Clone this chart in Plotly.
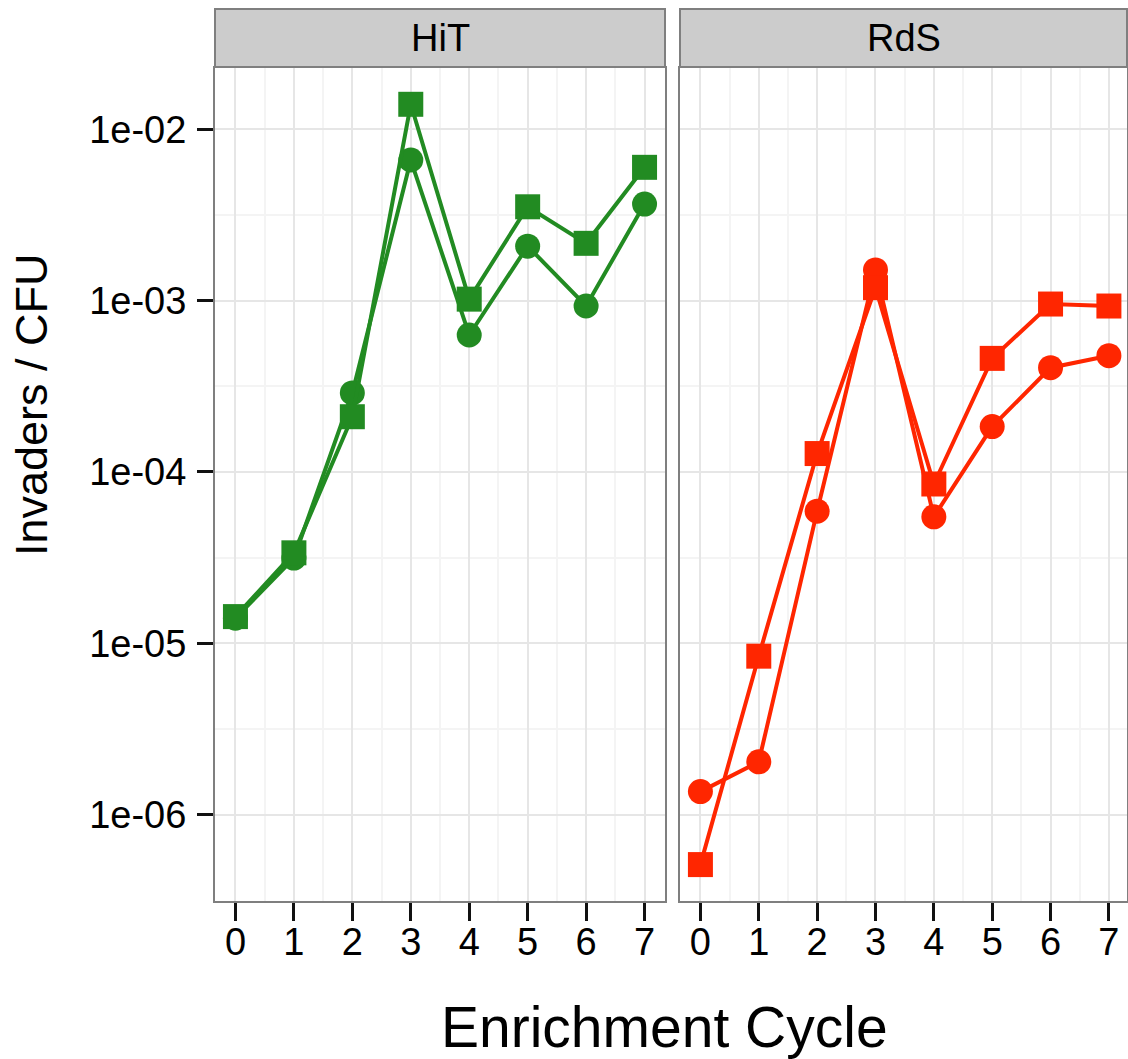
import plotly.graph_objects as go

# Enrichment cycles (x) and the two panels
cycles = [0, 1, 2, 3, 4, 5, 6, 7]
panels = ["HiT", "RdS"]

# Invaders / CFU per cycle, two replicate series per panel
hit_circle = [1.40e-5, 3.14e-5, 2.89e-4, 6.62e-3, 6.3e-4, 2.08e-3, 9.3e-4, 3.66e-3]
hit_square = [1.43e-5, 3.37e-5, 2.10e-4, 1.40e-2, 1.02e-3, 3.53e-3, 2.16e-3, 6.0e-3]
rds_circle = [1.36e-6, 2.03e-6, 5.9e-5, 1.51e-3, 5.47e-5, 1.84e-4, 4.06e-4, 4.77e-4]
rds_square = [5.1e-7, 8.4e-6, 1.28e-4, 1.19e-3, 8.5e-5, 4.6e-4, 9.55e-4, 9.3e-4]

# Axis ticks
y_tickvals = [1e-6, 1e-5, 1e-4, 1e-3, 1e-2]
y_ticktext = ["1e-06", "1e-05", "1e-04", "1e-03", "1e-02"]
y_minor = [10 ** -6.5, 10 ** -5.5, 10 ** -4.5, 10 ** -3.5, 10 ** -2.5]
x_minor = [0.5, 1.5, 2.5, 3.5, 4.5, 5.5, 6.5]

GREEN = "#228B22"
RED = "#FF2600"
FONT = "Liberation Sans, Arial, Helvetica, sans-serif"

W, H = 1128, 1059


def px_x(p):
    return p / W


def px_y(p):
    return (H - p) / H


fig = go.Figure()

series = [
    ("x", "y", hit_circle, "circle", GREEN),
    ("x", "y", hit_square, "square", GREEN),
    ("x2", "y2", rds_circle, "circle", RED),
    ("x2", "y2", rds_square, "square", RED),
]
for xa, ya, vals, sym, col in series:
    fig.add_trace(go.Scatter(
        x=cycles, y=vals, xaxis=xa, yaxis=ya,
        mode="lines+markers",
        line=dict(color=col, width=4),
        marker=dict(symbol=sym, size=25, color=col, line=dict(width=0)),
        showlegend=False, hoverinfo="skip",
    ))

grid_major = "#E6E6E6"
grid_minor = "#F4F4F4"
border = "#7F7F7F"

x_common = dict(
    range=[-0.35, 7.35],
    tickmode="array", tickvals=cycles, ticktext=[str(c) for c in cycles],
    ticks="outside", ticklen=18, tickwidth=3, tickcolor="#111111",
    tickfont=dict(family=FONT, size=38, color="black"),
    ticklabelstandoff=-12,
    showgrid=True, gridcolor=grid_major, gridwidth=2,
    minor=dict(tickvals=x_minor, showgrid=True, gridcolor=grid_minor,
               gridwidth=2, ticks=""),
    showline=True, linecolor=border, linewidth=2, mirror=True,
    zeroline=False, fixedrange=True,
)
y_common = dict(
    type="log",
    range=[-6.505, -1.642],
    tickmode="array", tickvals=y_tickvals, ticktext=y_ticktext,
    showgrid=True, gridcolor=grid_major, gridwidth=2,
    minor=dict(tickvals=y_minor, showgrid=True, gridcolor=grid_minor,
               gridwidth=2, ticks=""),
    showline=True, linecolor=border, linewidth=2, mirror=True,
    zeroline=False, fixedrange=True,
)

p1 = (215, 665)
p2 = (680, 1127)
top, bottom = 68, 901

fig.update_layout(
    width=W, height=H,
    margin=dict(l=0, r=0, t=0, b=0),
    paper_bgcolor="white", plot_bgcolor="white",
    xaxis=dict(domain=[px_x(p1[0]), px_x(p1[1])], anchor="y", **x_common),
    xaxis2=dict(domain=[px_x(p2[0]), px_x(p2[1])], anchor="y2",
                **{**x_common, "range": [-0.35, 7.31]}),
    yaxis=dict(domain=[px_y(bottom), px_y(top)], anchor="x",
               ticks="outside", ticklen=16, tickwidth=3, tickcolor="#111111",
               tickfont=dict(family=FONT, size=38, color="black"),
               ticklabelstandoff=3,
               **y_common),
    yaxis2=dict(domain=[px_y(bottom), px_y(top)], anchor="x2",
                matches="y", showticklabels=False, ticks="",
                **y_common),
)

# Facet strips
strip_top, strip_bottom = 9, 67
for (x0, x1), label in zip([p1, p2], panels):
    fig.add_shape(type="rect", xref="paper", yref="paper",
                  x0=px_x(x0), x1=px_x(x1),
                  y0=px_y(strip_bottom), y1=px_y(strip_top),
                  fillcolor="#CCCCCC", line=dict(color=border, width=2),
                  layer="below")
    fig.add_annotation(text=label, xref="paper", yref="paper",
                       x=px_x((x0 + x1) / 2), y=px_y((strip_top + strip_bottom) / 2),
                       xanchor="center", yanchor="middle", showarrow=False,
                       font=dict(family=FONT, size=38, color="black"))

# Axis titles
fig.add_annotation(text="Invaders / CFU", xref="paper", yref="paper",
                   x=px_x(31), y=px_y(405), textangle=-90,
                   xanchor="center", yanchor="middle", showarrow=False,
                   font=dict(family=FONT, size=45, color="black"))
fig.add_annotation(text="Enrichment Cycle", xref="paper", yref="paper",
                   x=px_x(664), y=px_y(1027),
                   xanchor="center", yanchor="middle", showarrow=False,
                   font=dict(family=FONT, size=57, color="black"))

fig.write_html("out.html")
